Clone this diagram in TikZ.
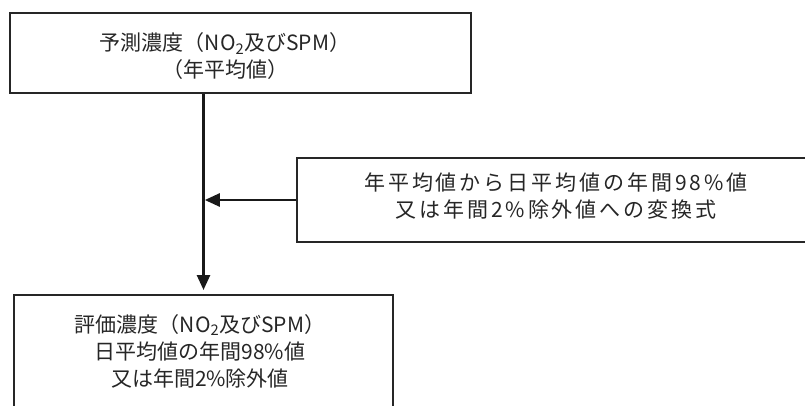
\documentclass[tikz,border=0pt]{standalone}
\usepackage{fontspec}
\setmainfont{Noto Sans CJK JP}
\usetikzlibrary{arrows.meta}
\begin{document}
\begin{tikzpicture}[x=1pt,y=-1pt,
  box/.style={draw=black!85,line width=2pt,inner sep=0pt},
  lbl/.style={font=\fontsize{21}{27}\selectfont,text=black!85,align=center,inner sep=0pt},
  arr/.style={line width=2.6pt,draw=black!90,-{Triangle[length=15pt,width=13pt]}}]
\useasboundingbox (0,0) rectangle (805,405);
\clip (0,0) rectangle (805,405);
\node[box,minimum width=461.5pt,minimum height=80.3pt] (pred) at (240.25,52.85) {};
\node[lbl] (predtxt) at (225,56.5) {予測濃度（NO\textsubscript{2}及びSPM）\\（年平均値）};
\node[box,minimum width=533pt,minimum height=84pt] (conv) at (563.5,200) {};
\node[lbl,font=\fontsize{21}{27}\selectfont\addfontfeature{LetterSpace=14}] (convtxt) at (556,196.5) {年平均値から日平均値の年間98\%値\\又は年間2\%除外値への変換式};
\node[box,minimum width=379pt,minimum height=115pt] (eval) at (203.5,352.5) {};
\node[lbl] (evaltxt) at (200,351) {評価濃度（NO\textsubscript{2}及びSPM）\\日平均値の年間98\%値\\又は年間2\%除外値};
\draw[arr,shorten >=4pt] (pred.south -| eval.north) -- (eval.north);
\draw[arr] (conv.west) -- ([xshift=1.3pt]conv.west -| eval.north);
\end{tikzpicture}
\end{document}
